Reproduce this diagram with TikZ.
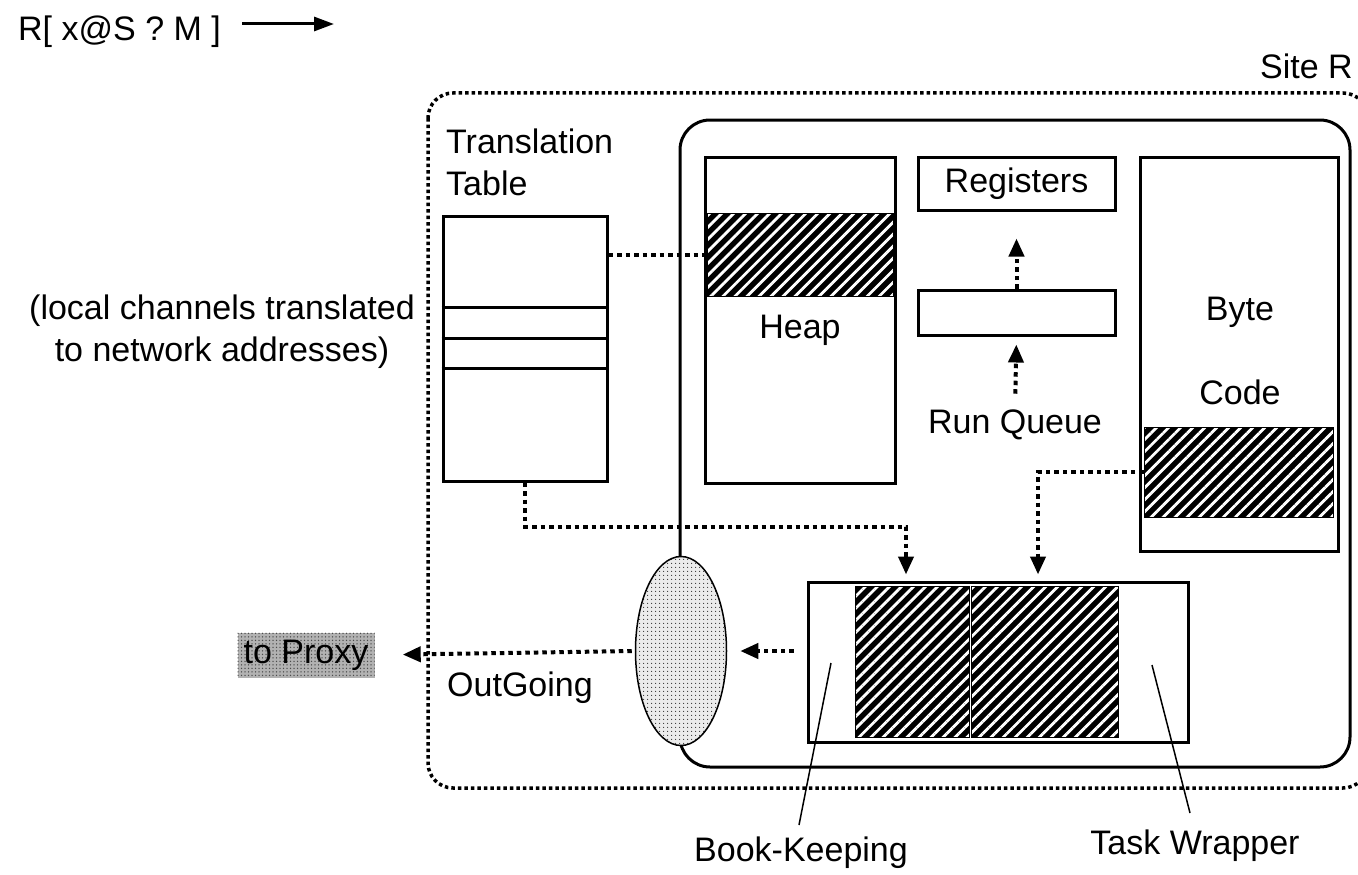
\documentclass[tikz,border=0pt]{standalone}
\usepackage{fontspec}
\setmainfont{Liberation Sans}
\usetikzlibrary{arrows.meta,patterns.meta,shapes.geometric}
\begin{document}
\begin{tikzpicture}[x=1pt,y=-1pt,
  every node/.style={font=\fontsize{34}{42}\selectfont, inner sep=0pt},
  box/.style={draw, line width=3pt, fill=white},
  hatch/.style={draw, line width=1pt, preaction={fill=black},
    pattern={Lines[angle=45,distance=8.5pt,line width=2.8pt]}, pattern color=white},
  dotconn/.style={line width=4pt, dash pattern=on 4.5pt off 4pt},
  outerdot/.style={line width=3.5pt, dash pattern=on 3.5pt off 3pt},
  tipa/.style={-{Triangle[length=18pt,width=15pt]}},
  leader/.style={line width=1.5pt},
  dotfill/.style={preaction={fill=black!8},
    pattern={Dots[distance=4pt,radius=0.75pt]}, pattern color=black!80},
  proxyfill/.style={preaction={fill=black!30},
    pattern={Dots[distance=3.5pt,radius=0.75pt]}, pattern color=black!70}
]
\useasboundingbox (0,0) rectangle (1358,875);

% top message
\node[anchor=base west] (msg) at (18,41) {R[ x@S ? M ]};
\coordinate (m1) at (242,24);
\coordinate (m2) at (334,24);
\draw[line width=3pt, -{Triangle[length=20pt,width=14pt]}] (m1) -- (m2);

\node[anchor=east] (site) at (1353,66) {Site R};

% outer site frame
\draw[outerdot, rounded corners=25pt] (428,93) rectangle (1368,788);

% inner VM frame
\node[draw, line width=3pt, rounded corners=30pt, minimum width=670, minimum height=647] (vm) at (1015,443.5) {};

% translation table
\node[anchor=north west, align=left] (ttl) at (446,129) {Translation\\Table};
\node[box, minimum width=164, minimum height=265] (tt) at (525,348.5) {};
\foreach \yy in {307,338,368} \draw[line width=3pt] (tt.west |- 0,\yy) -- (tt.east |- 0,\yy);

\node[align=center] (loc) at (222,332) {(local channels translated\\to network addresses)};

% heap
\node[box, minimum width=190, minimum height=326] (heap) at (800,320) {};
\node[hatch, minimum width=186, minimum height=83] (hh) at (800,254.5) {};
\node (heapl) at (800,330) {Heap};

% registers and run queue
\node[box, minimum width=197, minimum height=53] (reg) at (1016.5,183.5) {Registers};
\node[box, minimum width=197, minimum height=45] (rq) at (1016.5,312.5) {};
\node (rql) at (1015,425) {Run Queue};

% byte code
\node[box, minimum width=198, minimum height=394] (bc) at (1239,354) {};
\node (byte) at (1240,312) {Byte};
\node (code) at (1240,392) {Code};
\node[hatch, minimum width=189, minimum height=90] (bch) at (1238.5,472) {};

% task
\node[box, minimum width=380, minimum height=160] (task) at (998,662) {};
\node[hatch, minimum width=114, minimum height=151] (th1) at (912,661.5) {};
\node[hatch, minimum width=147, minimum height=151] (th2) at (1045,661.5) {};

% outgoing
\node[ellipse, draw, line width=1.5pt, minimum width=91, minimum height=189, dotfill] (og) at (681,651) {};
\node[proxyfill, minimum width=137, minimum height=45] (px) at (306,655) {to Proxy};
\node (ogl) at (520,688) {OutGoing};

% connectors
\draw[dotconn] (hh.west -| tt.east) -- (hh.west);
\draw[dotconn, tipa, shorten >=27pt] (rq.north) -- (rq.north |- reg.south);
\draw[dotconn, tipa, shorten <=16pt, shorten >=8pt] (rql.north) -- (rq.south);
\draw[dotconn, tipa, shorten >=6pt] (bch.west) -| ([xshift=40pt]task.north);
\draw[dotconn, tipa, shorten >=6pt] (tt.south) -- ++(0,44) -| ([xshift=-92pt]task.north);
\draw[dotconn, tipa, shorten <=13pt, shorten >=13pt] (task.west |- og.east) -- (og.east);
\draw[dotconn, tipa, shorten <=3pt, shorten >=28pt] (og.west) -- (px.east);

% leaders
\node (bk) at (801,853) {Book-Keeping};
\node (tw) at (1195,846) {Task Wrapper};
\coordinate (bk1) at (831,663);
\coordinate (bk2) at (799,825);
\coordinate (tw1) at (1152,665);
\coordinate (tw2) at (1190,813);
\draw[leader] (bk1) -- (bk2);
\draw[leader] (tw1) -- (tw2);
\end{tikzpicture}
\end{document}
